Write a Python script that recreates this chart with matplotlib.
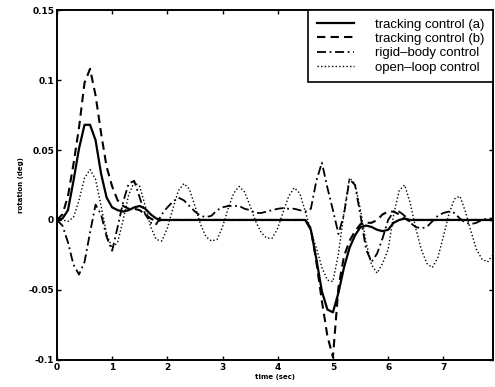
import matplotlib
matplotlib.use("Agg")
import matplotlib.pyplot as plt
import numpy as np

# time axis (sec), one sample every 0.1 s
t = np.round(np.arange(0, 7.95, 0.1), 2)

# tracking control (a)
track_a = [0.000, 0.001, 0.007, 0.028, 0.051, 0.068, 0.068, 0.057, 0.033, 0.016,
           0.009, 0.007, 0.006, 0.007, 0.009, 0.010, 0.008, 0.004, 0.001, 0.000,
           0.000, 0.000, 0.000, 0.000, 0.000, 0.000, 0.000, 0.000, 0.000, 0.000,
           0.000, 0.000, 0.000, 0.000, 0.000, 0.000, 0.000, 0.000, 0.000, 0.000,
           0.000, 0.000, 0.000, 0.000, 0.000, 0.000, -0.007, -0.028, -0.051, -0.064,
           -0.066, -0.052, -0.034, -0.020, -0.011, -0.005, -0.004, -0.005, -0.007, -0.008,
           -0.007, -0.002, 0.000, 0.001, 0.000, 0.000, 0.000, 0.000, 0.000, 0.000,
           0.000, 0.000, 0.000, 0.000, 0.000, 0.000, 0.000, 0.000, 0.000, 0.000]

# tracking control (b)
track_b = [0.000, 0.004, 0.017, 0.040, 0.066, 0.098, 0.108, 0.089, 0.062, 0.038,
           0.024, 0.014, 0.010, 0.008, 0.008, 0.007, 0.004, 0.001, -0.001, 0.000,
           0.000, 0.000, 0.000, 0.000, 0.000, 0.000, 0.000, 0.000, 0.000, 0.000,
           0.000, 0.000, 0.000, 0.000, 0.000, 0.000, 0.000, 0.000, 0.000, 0.000,
           0.000, 0.000, 0.000, 0.000, 0.000, 0.000, -0.006, -0.030, -0.058, -0.083,
           -0.098, -0.048, -0.026, -0.015, -0.008, -0.003, -0.002, -0.002, 0.000, 0.004,
           0.006, 0.006, 0.004, 0.001, -0.001, 0.000, 0.000, 0.000, 0.000, 0.000,
           0.000, 0.000, 0.000, 0.000, 0.000, 0.000, 0.000, 0.000, 0.000, 0.000]

# rigid-body control
rigid = [0.000, -0.004, -0.016, -0.032, -0.039, -0.030, -0.009, 0.011, 0.004, -0.012,
         -0.022, -0.005, 0.013, 0.026, 0.028, 0.016, 0.004, -0.002, -0.003, 0.004,
         0.009, 0.013, 0.016, 0.014, 0.010, 0.006, 0.003, 0.002, 0.003, 0.007,
         0.009, 0.010, 0.010, 0.010, 0.008, 0.007, 0.005, 0.005, 0.006, 0.007,
         0.008, 0.0085, 0.008, 0.008, 0.007, 0.006, 0.008, 0.028, 0.041, 0.023,
         0.007, -0.010, 0.004, 0.029, 0.025, 0.003, -0.021, -0.030, -0.024, -0.013,
         0.000, 0.006, 0.006, 0.003, -0.002, -0.005, -0.006, -0.005, -0.001, 0.003,
         0.005, 0.006, 0.005, 0.001, -0.002, -0.003, -0.002, 0.000, 0.001, 0.001]

# open-loop control
open_loop = [0.000, 0.000, -0.001, 0.002, 0.014, 0.030, 0.036, 0.029, 0.010, -0.010,
             -0.020, -0.016, 0.000, 0.018, 0.027, 0.024, 0.010, -0.005, -0.014, -0.015,
             -0.006, 0.008, 0.021, 0.026, 0.022, 0.010, -0.003, -0.012, -0.015, -0.014,
             -0.005, 0.008, 0.019, 0.024, 0.020, 0.010, -0.001, -0.009, -0.013, -0.013,
             -0.006, 0.006, 0.017, 0.023, 0.019, 0.006, -0.008, -0.020, -0.034, -0.043,
             -0.044, -0.024, 0.005, 0.030, 0.026, 0.007, -0.016, -0.032, -0.038, -0.031,
             -0.021, 0.004, 0.021, 0.025, 0.012, -0.006, -0.021, -0.031, -0.034, -0.027,
             -0.012, 0.004, 0.015, 0.017, 0.006, -0.008, -0.021, -0.028, -0.030, -0.025]

x_ticks = [0, 1, 2, 3, 4, 5, 6, 7]
y_ticks = [-0.1, -0.05, 0, 0.05, 0.1, 0.15]
y_tick_labels = ["-0.1", "-0.05", "0", "0.05", "0.1", "0.15"]

fig = plt.figure(figsize=(4.95, 3.87), dpi=100)
ax = fig.add_axes([0.115, 0.070, 0.881, 0.904])

ax.plot(t, track_a, color="black", lw=1.6, ls="-", label="tracking control (a)")
ax.plot(t, track_b, color="black", lw=1.5, ls=(0, (4, 2.5)), label="tracking control (b)")
ax.plot(t, rigid, color="black", lw=1.3, ls=(0, (5, 2, 1, 2)), label="rigid\u2013body control")
ax.plot(t, open_loop, color="black", lw=1.0, ls=(0, (1, 1.6)), label="open\u2013loop control")

ax.set_xlim(0, 7.9)
ax.set_ylim(-0.1, 0.15)
ax.set_xticks(x_ticks)
ax.set_xticklabels([str(v) for v in x_ticks])
ax.set_yticks(y_ticks)
ax.set_yticklabels(y_tick_labels)
ax.tick_params(direction="in", top=True, right=True, length=3, width=1,
               labelsize=6.5, pad=2)
for lab in ax.get_xticklabels() + ax.get_yticklabels():
    lab.set_fontweight("bold")
for sp in ax.spines.values():
    sp.set_linewidth(1.4)

ax.set_xlabel("time (sec)", fontsize=5, fontweight="bold", labelpad=2)
ax.set_ylabel("rotation (deg)", fontsize=5, fontweight="bold", labelpad=3)

leg = ax.legend(loc="upper right", bbox_to_anchor=(1, 1), borderaxespad=0,
                fancybox=False, framealpha=1, edgecolor="black",
                prop={"family": "Liberation Sans", "size": 9.5},
                handlelength=2.8, handletextpad=1.6, labelspacing=0.15,
                borderpad=0.65)
leg.get_frame().set_linewidth(1.2)

fig.savefig("out.png", dpi=100)
